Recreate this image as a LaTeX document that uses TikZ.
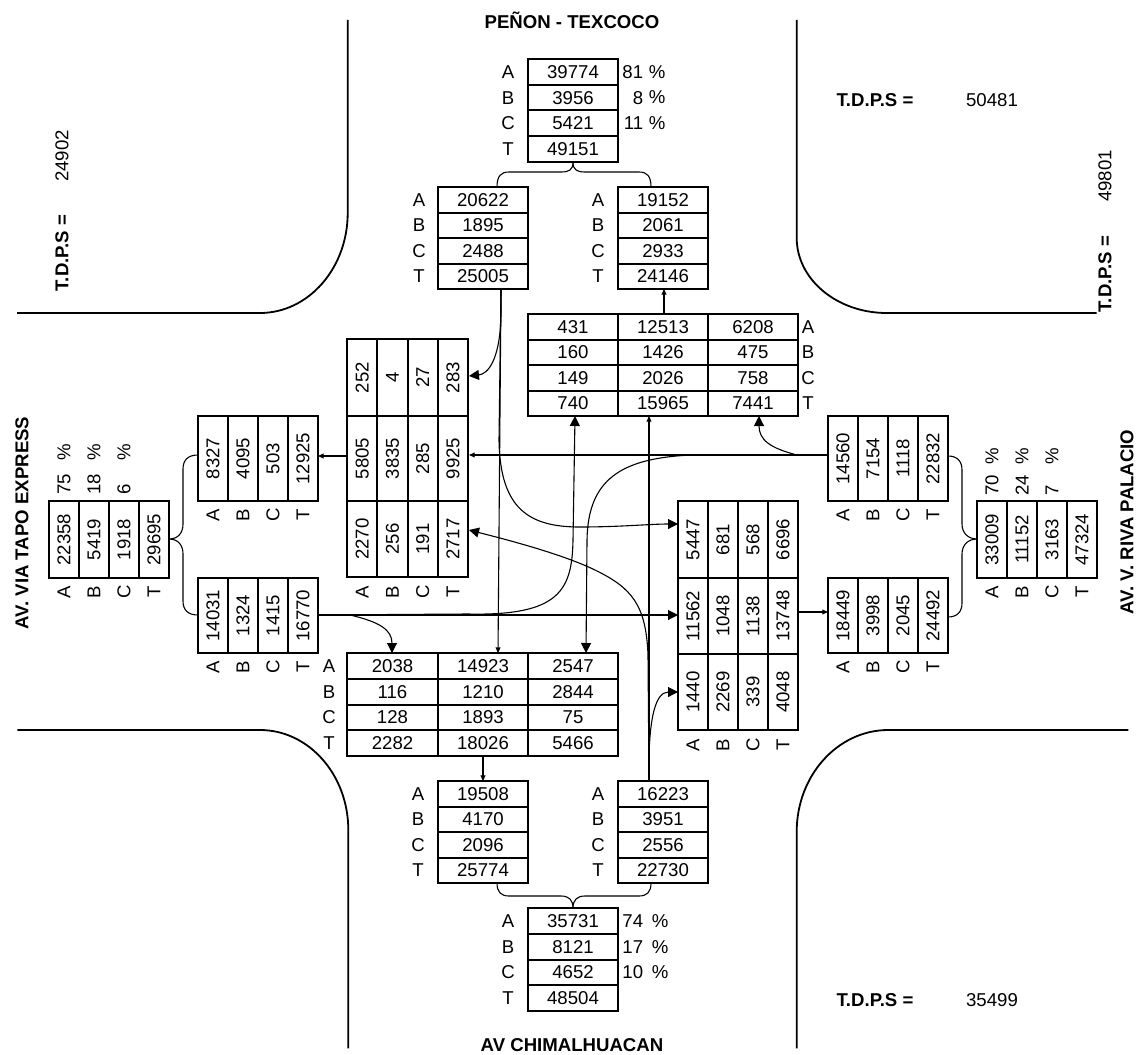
\documentclass[tikz,border=0pt]{standalone}
\usepackage{fontspec}
\setmainfont{Liberation Sans}
\usetikzlibrary{arrows.meta}
\newcommand\fs{\fontsize{9.3}{11}\selectfont}
\tikzset{
  tab/.style={line width=1pt},
  cell/.style={inner sep=0pt, font=\fs},
  rcell/.style={inner sep=0pt, rotate=90, font=\fs},
  conn/.style={line width=0.55pt},
  road/.style={line width=0.9pt},
  bigtip/.style={-{Triangle[length=5pt,width=5pt]}},
  smalltip/.style={-{Triangle[length=2.8pt,width=2.4pt]}},
  ttl/.style={font=\fs\bfseries, inner sep=0pt},
}
% row table: name, x1, y1, x2, y2, a, b, c, t
\newcommand\rowtab[9]{%
  \draw[tab] (#2,#3) rectangle (#4,#5);
  \foreach \k in {1,2,3}{\draw[tab] (#2,{#3+\k*(#5-#3)/4}) -- (#4,{#3+\k*(#5-#3)/4});}
  \node[cell] (#1a) at ({(#2+#4)/2},{#3+0.5*(#5-#3)/4}) {#6};
  \node[cell] (#1b) at ({(#2+#4)/2},{#3+1.5*(#5-#3)/4}) {#7};
  \node[cell] (#1c) at ({(#2+#4)/2},{#3+2.5*(#5-#3)/4}) {#8};
  \node[cell] (#1t) at ({(#2+#4)/2},{#3+3.5*(#5-#3)/4}) {#9};
}
% row labels: name, x, y1, y2
\newcommand\rowlab[4]{%
  \node[cell] (#1A) at (#2,{#3+0.5*(#4-#3)/4}) {A};
  \node[cell] (#1B) at (#2,{#3+1.5*(#4-#3)/4}) {B};
  \node[cell] (#1C) at (#2,{#3+2.5*(#4-#3)/4}) {C};
  \node[cell] (#1T) at (#2,{#3+3.5*(#4-#3)/4}) {T};
}
% column table (rotated text): name, x1, y1, x2, y2, a, b, c, t
\newcommand\coltab[9]{%
  \draw[tab] (#2,#3) rectangle (#4,#5);
  \foreach \k in {1,2,3}{\draw[tab] ({#2+\k*(#4-#2)/4},#3) -- ({#2+\k*(#4-#2)/4},#5);}
  \node[rcell] (#1a) at ({#2+0.5*(#4-#2)/4},{(#3+#5)/2}) {#6};
  \node[rcell] (#1b) at ({#2+1.5*(#4-#2)/4},{(#3+#5)/2}) {#7};
  \node[rcell] (#1c) at ({#2+2.5*(#4-#2)/4},{(#3+#5)/2}) {#8};
  \node[rcell] (#1t) at ({#2+3.5*(#4-#2)/4},{(#3+#5)/2}) {#9};
}
% column labels: name, x1, x2, y
\newcommand\collab[4]{%
  \node[rcell] (#1A) at ({#2+0.5*(#3-#2)/4},#4) {A};
  \node[rcell] (#1B) at ({#2+1.5*(#3-#2)/4},#4) {B};
  \node[rcell] (#1C) at ({#2+2.5*(#3-#2)/4},#4) {C};
  \node[rcell] (#1T) at ({#2+3.5*(#3-#2)/4},#4) {T};
}
\begin{document}
\begin{tikzpicture}[x=0.5pt,y=-0.5pt]
\useasboundingbox (0,0) rectangle (1139,1054);

% ---------------- roads ----------------
\draw[road] (347.7,20) -- (347.7,213) .. controls (347.7,268) and (308.6,313) .. (260,313) -- (17,313);
\draw[road] (796.7,20) -- (796.7,238) .. controls (796.7,279.4) and (837,313) .. (886.7,313) -- (1096.7,313);
\draw[road] (1128.3,730) -- (888.3,730) .. controls (837.7,730) and (796.7,775.5) .. (796.7,831.7) -- (796.7,1048.3);
\draw[road] (17.3,730) -- (260,730) .. controls (308.8,730) and (348.3,774.8) .. (348.3,830) -- (348.3,1048.3);

% ---------------- titles ----------------
\node[ttl] (tN) at (572,20) {PEÑON - TEXCOCO};
\node[ttl] (tS) at (572,1045) {AV CHIMALHUACAN};
\node[ttl, rotate=90] (tW) at (22,523) {AV. VIA TAPO EXPRESS};
\node[ttl, rotate=90] (tE) at (1127,522) {AV. V. RIVA PALACIO};

\node[ttl, rotate=90] (dNW) at (62,253) {T.D.P.S =};
\node[cell, rotate=90] (vNW) at (62,156) {24902};
\node[ttl, rotate=90] (dNE) at (1105,274) {T.D.P.S =};
\node[cell, rotate=90] (vNE) at (1105,176) {49801};
\node[ttl] (dN) at (875,100) {T.D.P.S =};
\node[cell] (vN) at (992,100) {50481};
\node[ttl] (dS) at (875,1000) {T.D.P.S =};
\node[cell] (vS) at (992,1000) {35499};

% ---------------- north ----------------
\rowtab{P}{528}{59}{618}{162}{39774}{3956}{5421}{49151}
\rowlab{PL}{508}{59}{162}
\node[cell,anchor=east] (Pn1) at (643.5,71.9) {81};
\node[cell,anchor=west] (Pq1) at (648.5,71.9) {\%};
\node[cell,anchor=east] (Pn2) at (643.5,97.6) {8};
\node[cell,anchor=west] (Pq2) at (648.5,97.6) {\%};
\node[cell,anchor=east] (Pn3) at (643.5,123.4) {11};
\node[cell,anchor=west] (Pq3) at (648.5,123.4) {\%};

\rowtab{L1}{438}{187}{528}{289}{20622}{1895}{2488}{25005}
\rowlab{L1L}{419}{187}{289}
\rowtab{R1}{618}{187}{708}{289}{19152}{2061}{2933}{24146}
\rowlab{R1L}{598}{187}{289}

\rowtab{N1}{528}{314}{618}{416}{431}{160}{149}{740}
\rowtab{N2}{618}{314}{708}{416}{12513}{1426}{2026}{15965}
\rowtab{N3}{708}{314}{798}{416}{6208}{475}{758}{7441}
\rowlab{NL}{808}{314}{416}

% ---------------- south ----------------
\rowtab{S1}{347}{653}{438}{756}{2038}{116}{128}{2282}
\rowtab{S2}{438}{653}{528}{756}{14923}{1210}{1893}{18026}
\rowtab{S3}{528}{653}{618}{756}{2547}{2844}{75}{5466}
\rowlab{SL}{329}{653}{756}

\rowtab{S4}{438}{781}{528}{883}{19508}{4170}{2096}{25774}
\rowlab{S4L}{418}{781}{883}
\rowtab{S5}{618}{781}{708}{883}{16223}{3951}{2556}{22730}
\rowlab{S5L}{598}{781}{883}

\rowtab{S6}{528}{908}{618}{1011}{35731}{8121}{4652}{48504}
\rowlab{S6L}{508}{908}{1011}
\node[cell,anchor=east] (Sn1) at (643.5,920.9) {74};
\node[cell,anchor=west] (Sq1) at (651.5,920.9) {\%};
\node[cell,anchor=east] (Sn2) at (643.5,946.6) {17};
\node[cell,anchor=west] (Sq2) at (651.5,946.6) {\%};
\node[cell,anchor=east] (Sn3) at (643.5,972.4) {10};
\node[cell,anchor=west] (Sq3) at (651.5,972.4) {\%};

% ---------------- west ----------------
\coltab{W1}{198}{416}{318}{501}{8327}{4095}{503}{12925}
\collab{W1L}{198}{318}{515}
\coltab{W2}{198}{578}{318}{653}{14031}{1324}{1415}{16770}
\collab{W2L}{198}{318}{667}
\coltab{W3}{49}{501}{169}{578}{22358}{5419}{1918}{29695}
\collab{W3L}{49}{169}{592}
\node[rcell,anchor=west] (Wn1) at (64,495) {75};
\node[rcell,anchor=west] (Wq1) at (64,461) {\%};
\node[rcell,anchor=west] (Wn2) at (94,495) {18};
\node[rcell,anchor=west] (Wq2) at (94,461) {\%};
\node[rcell,anchor=west] (Wn3) at (124,495) {6};
\node[rcell,anchor=west] (Wq3) at (124,461) {\%};

\coltab{CL1}{347}{339}{468}{416}{252}{4}{27}{283}
\coltab{CL2}{347}{416}{468}{501}{5805}{3835}{285}{9925}
\coltab{CL3}{347}{501}{468}{577}{2270}{256}{191}{2717}
\collab{CLL}{347}{468}{592}

% ---------------- east ----------------
\coltab{E1}{828}{416}{948}{501}{14560}{7154}{1118}{22832}
\collab{E1L}{828}{948}{515}
\coltab{E2}{828}{578}{948}{653}{18449}{3998}{2045}{24492}
\collab{E2L}{828}{948}{667}
\coltab{E3}{977}{501}{1097}{578}{33009}{11152}{3163}{47324}
\collab{E3L}{977}{1097}{592}
\node[rcell,anchor=west] (En1) at (992,496) {70};
\node[rcell,anchor=west] (Eq1) at (992,465) {\%};
\node[rcell,anchor=west] (En2) at (1022,496) {24};
\node[rcell,anchor=west] (Eq2) at (1022,465) {\%};
\node[rcell,anchor=west] (En3) at (1052,496) {7};
\node[rcell,anchor=west] (Eq3) at (1052,465) {\%};

\coltab{CR1}{678}{501}{798}{578}{5447}{681}{568}{6696}
\coltab{CR2}{678}{578}{798}{654}{11562}{1048}{1138}{13748}
\coltab{CR3}{678}{654}{798}{730}{1440}{2269}{339}{4048}
\collab{CRL}{678}{798}{745}

% ---------------- connector end points ----------------
\coordinate (Pbot) at (573,162);
\coordinate (L1top) at (497,187);
\coordinate (R1top) at (651,187);
\coordinate (S4bot) at (497,883);
\coordinate (S5bot) at (651,883);
\coordinate (S6top) at (573,908);
\coordinate (W3r) at (169,539);
\coordinate (W1l) at (198,455);
\coordinate (W2l) at (198,615);
\coordinate (E3l) at (977,539);
\coordinate (E1r) at (948,456);
\coordinate (E2r) at (948,617);

\coordinate (N2top) at (664,314);
\coordinate (R1bot) at (664,289);
\coordinate (CL2l) at (347,456);
\coordinate (W1r) at (318,456);
\coordinate (CR2r) at (798,612);
\coordinate (E2l) at (828,612);
\coordinate (S2bot) at (483,756);
\coordinate (S4top) at (483,781);

\coordinate (L1bot) at (501,289);
\coordinate (CL1r) at (469,376);
\coordinate (S2top) at (498,653);
\coordinate (CR1l) at (678,524);

\coordinate (E1l) at (828,455);
\coordinate (CL2r) at (469,455);
\coordinate (N3bot) at (759,416);
\coordinate (S3top) at (586,653);

\coordinate (W2r) at (318,615);
\coordinate (CR2l) at (678,615);
\coordinate (S1top) at (392,653);
\coordinate (N1bot) at (575,416);

\coordinate (S5top) at (649,781);
\coordinate (N2bot) at (649,416);
\coordinate (CR3l) at (678,692);
\coordinate (CL3r) at (469,530);

% ---------------- braces ----------------
\draw[conn] (Pbot) .. controls (573,170) and (569,172) .. (561,172) -- (509,172) .. controls (501,172) and (497,176) .. (L1top);
\draw[conn] (Pbot) .. controls (573,170) and (577,172) .. (585,172) -- (639,172) .. controls (647,172) and (651,176) .. (R1top);
\draw[conn] (S4bot) .. controls (497,892) and (501,896) .. (509,896) -- (561,896) .. controls (569,896) and (573,900) .. (S6top);
\draw[conn] (S5bot) .. controls (651,892) and (647,896) .. (639,896) -- (585,896) .. controls (577,896) and (573,900) .. (S6top);
\draw[conn] (W3r) .. controls (178,539) and (183,533) .. (183,524) -- (183,469) .. controls (183,460) and (188,455) .. (W1l);
\draw[conn] (W3r) .. controls (178,539) and (183,545) .. (183,554) -- (183,601) .. controls (183,610) and (188,615) .. (W2l);
\draw[conn] (E3l) .. controls (968,539) and (962,533) .. (962,524) -- (962,470) .. controls (962,461) and (957,456) .. (E1r);
\draw[conn] (E3l) .. controls (968,539) and (962,545) .. (962,554) -- (962,603) .. controls (962,612) and (957,617) .. (E2r);

% ---------------- straight pass-through arrows ----------------
\draw[conn,smalltip] (N2top) -- (R1bot);
\draw[conn,smalltip] (CL2l) -- (W1r);
\draw[conn,smalltip] (CR2r) -- (E2l);
\draw[conn,smalltip] (S2bot) -- (S4top);

% ---------------- from north (25005) ----------------
\draw[conn,bigtip] (L1bot) -- (501,315) .. controls (500,360) and (488,374) .. (CL1r);
\draw[conn,smalltip] (L1bot) -- (S2top);
\draw[conn,bigtip] (L1bot) -- (499,440) .. controls (500,510) and (530,527) .. (580,527) .. controls (620,527) and (650,524) .. (CR1l);

% ---------------- from east (14560) ----------------
\draw[conn,smalltip] (E1l) -- (CL2r);
\draw[conn,bigtip] (E1l) -- (797,455) .. controls (770,448) and (759,440) .. (N3bot);
\draw[conn,bigtip] (E1l) -- (692,455) .. controls (620,458) and (588,480) .. (587,540) -- (S3top);

% ---------------- from west (16770) ----------------
\draw[conn,bigtip] (W2r) -- (CR2l);
\draw[conn,bigtip] (W2r) -- (350,615) .. controls (380,622) and (392,630) .. (S1top);
\draw[conn,bigtip] (W2r) -- (468,614) .. controls (560,616) and (572,590) .. (573,540) -- (N1bot);

% ---------------- from south (16223) ----------------
\draw[conn,smalltip] (S5top) -- (N2bot);
\draw[conn,bigtip] (S5top) -- (649,755) .. controls (650,720) and (655,692) .. (CR3l);
\draw[conn,bigtip] (S5top) -- (648,655) .. controls (646,605) and (632,588) .. (595,570) .. controls (560,553) and (500,538) .. (CL3r);

\end{tikzpicture}
\end{document}
